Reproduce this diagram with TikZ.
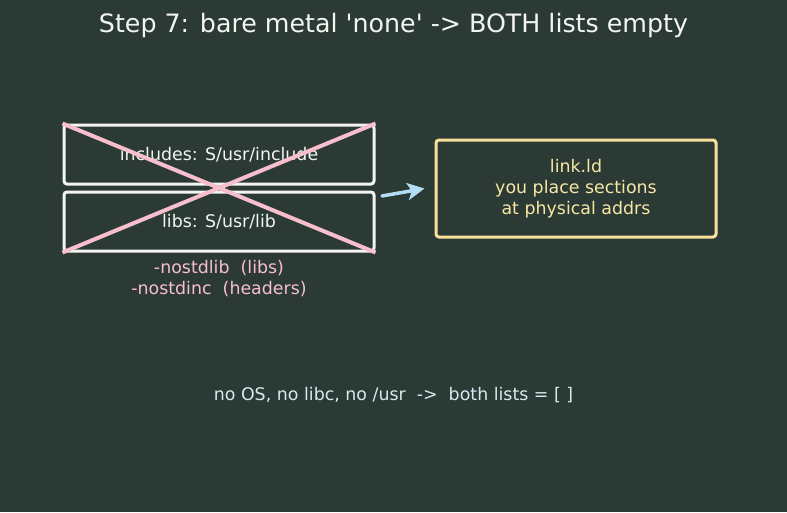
\documentclass[tikz,border=0pt]{standalone}
\usepackage{fontspec}
\setmainfont{DejaVu Sans}
\usetikzlibrary{arrows.meta}
\definecolor{bg}{HTML}{2B3A34}
\definecolor{wht}{HTML}{F2F5F0}
\definecolor{pinkx}{HTML}{F7BFCD}
\definecolor{yel}{HTML}{F8E19A}
\definecolor{yeltxt}{HTML}{F6E7A6}
\definecolor{arrowblue}{HTML}{B3DCF5}
\definecolor{btxt}{HTML}{D8E8EE}
\begin{document}
\begin{tikzpicture}[x=1pt,y=-1pt,
  listbox/.style={draw=wht,line width=3pt,rounded corners=3pt,minimum width=310pt,minimum height=59pt,inner sep=0pt,text=wht,font=\fontsize{17.4}{21}\selectfont},
  ldbox/.style={draw=yel,line width=3pt,rounded corners=3pt,minimum width=280pt,minimum height=97pt,inner sep=0pt,text=yeltxt,align=center,font=\fontsize{17.4}{21}\selectfont},
  xline/.style={draw=pinkx,line width=4pt},
  lbl/.style={font=\fontsize{17.4}{21}\selectfont,align=center}]
\fill[bg] (0,0) rectangle (787,512);
\useasboundingbox (0,0) rectangle (787,512);
\node[text=wht,font=\fontsize{25.3}{30}\selectfont] (title) at (393.5,26) {Step 7: bare metal \textquotesingle none\textquotesingle{} -> BOTH lists empty};
\node[listbox] (inc) at (219,154.5) {includes: S/usr/include};
\node[listbox] (lib) at (219,221.5) {libs: S/usr/lib};
\draw[xline] (inc.north west) -- (lib.south east);
\draw[xline] (inc.north east) -- (lib.south west);
\node[ldbox] (ld) at (576,188.5) {link.ld\\you place sections\\at physical addrs};
\coordinate (as) at (382,196);
\draw[arrowblue,line width=3.5pt,line cap=round,-{Stealth[length=17pt,width=17pt,inset=4pt]}] (as) -- ([xshift=-10pt,yshift=0pt]ld.west);
\node[lbl,text=pinkx] (flags) at (219,279) {-nostdlib\ \ (libs)\\-nostdinc\ \ (headers)};
\node[lbl,text=btxt] (note) at (393.5,395) {no OS, no libc, no /usr\ \ ->\ \ both lists = [ ]};
\end{tikzpicture}
\end{document}
